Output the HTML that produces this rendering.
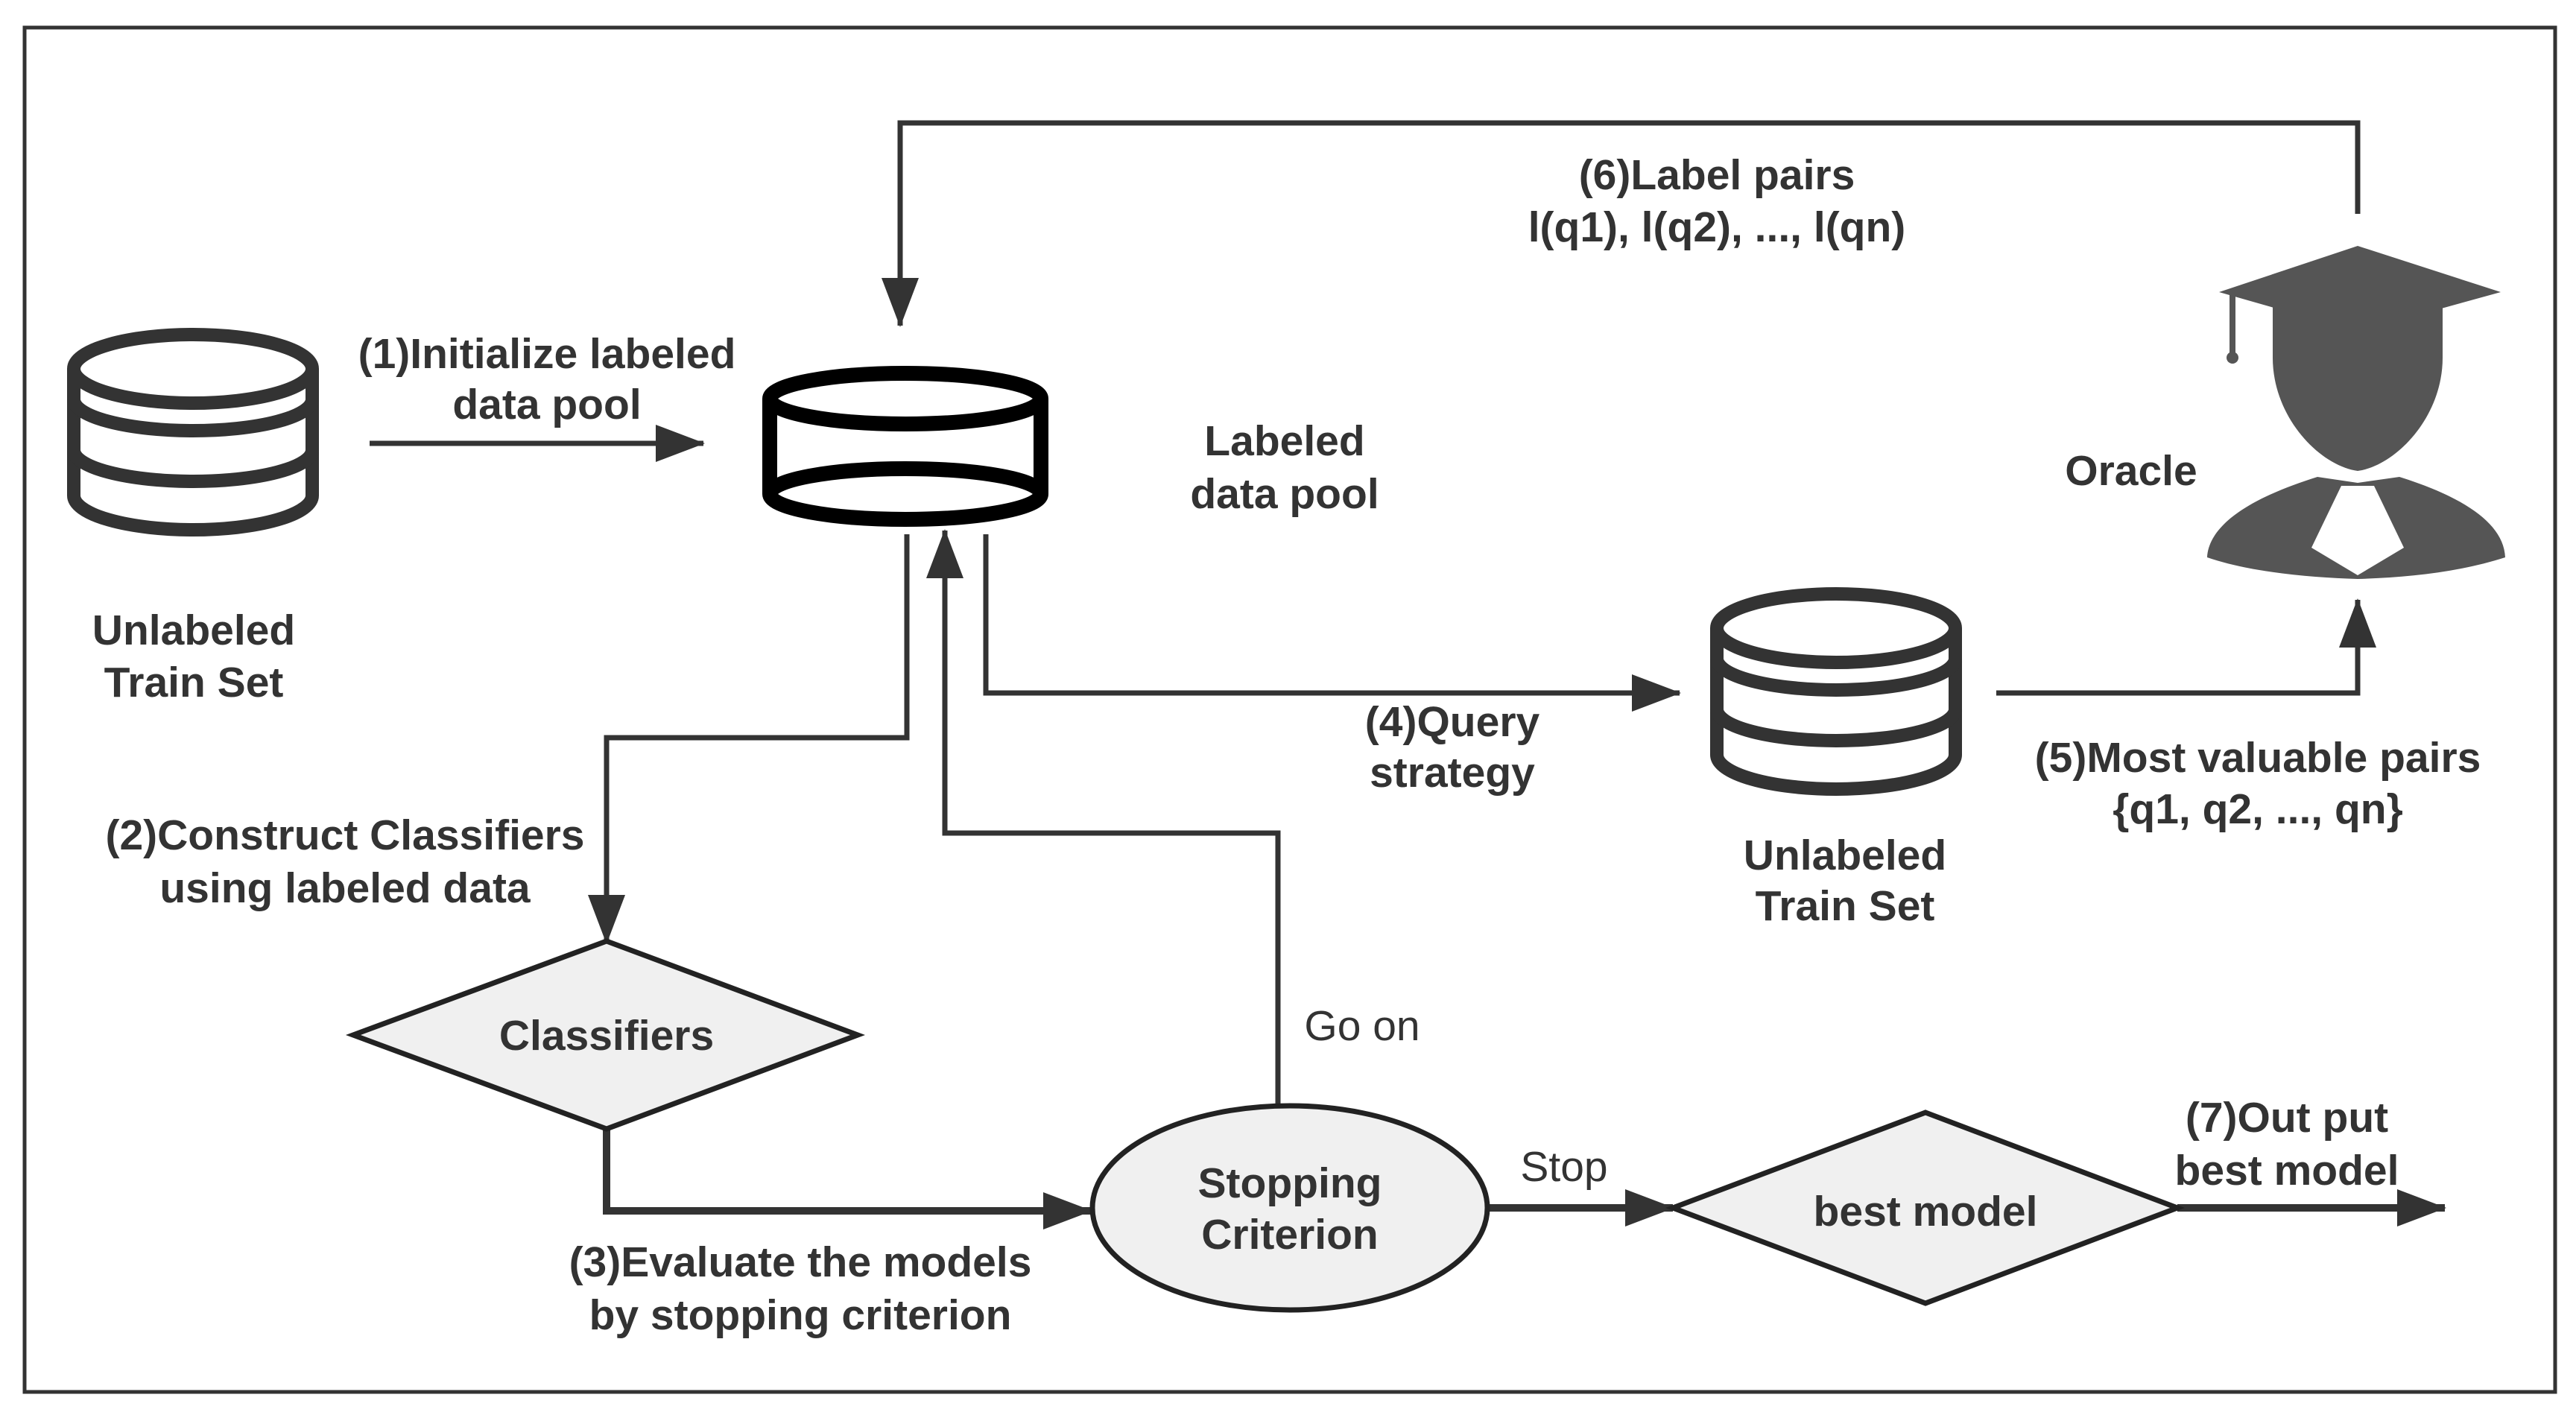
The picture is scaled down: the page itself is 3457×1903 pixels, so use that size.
<!DOCTYPE html>
<html><head><meta charset="utf-8"><style>
html,body{margin:0;padding:0;background:#fff}
svg{display:block}
text{font-family:"Liberation Sans",sans-serif;font-weight:bold;fill:#333;font-size:57px;text-anchor:middle}
.r{font-weight:normal}
</style></head><body>
<svg width="3457" height="1903" viewBox="0 0 3457 1903" xmlns="http://www.w3.org/2000/svg">
<defs>
<marker id="a" markerUnits="userSpaceOnUse" markerWidth="70" markerHeight="60" refX="64" refY="25" orient="auto">
<path d="M0,0 L66,25 L0,50 Z" fill="#333"/>
</marker>
</defs>
<rect x="33" y="37" width="3396" height="1831" fill="none" stroke="#333" stroke-width="5"/>

<!-- left cylinder -->
<g fill="none" stroke="#333" stroke-width="18">
<ellipse cx="259" cy="495" rx="160" ry="46"/>
<path d="M99,495 V665 A160,46 0 0 0 419,665 V495"/>
<path d="M99,536 A160,42 0 0 0 419,536"/>
<path d="M99,604 A160,42 0 0 0 419,604"/>
</g>
<!-- labeled pool -->
<g fill="none" stroke="#000" stroke-width="20">
<ellipse cx="1215" cy="535" rx="182" ry="34"/>
<ellipse cx="1215" cy="663" rx="182" ry="34"/>
<path d="M1033,535 V663 M1397,535 V663"/>
</g>
<!-- right cylinder -->
<g fill="none" stroke="#333" stroke-width="18">
<ellipse cx="2464" cy="843" rx="160" ry="46"/>
<path d="M2304,843 V1013 A160,46 0 0 0 2624,1013 V843"/>
<path d="M2304,884 A160,42 0 0 0 2624,884"/>
<path d="M2304,952 A160,42 0 0 0 2624,952"/>
</g>

<!-- oracle -->
<g fill="#555">
<path d="M3164,330 L3356,392 L3164,445 L2978,392 Z"/>
<rect x="2992" y="395" width="8" height="80"/>
<circle cx="2996" cy="480" r="8"/>
<path d="M3050,405 L3278,405 L3278,480 C3278,560 3215,625 3164,632 C3113,625 3050,560 3050,480 Z"/>
<path d="M3110,640 L3164,648 L3220,640 C3300,665 3360,700 3362,748 C3300,768 3230,775 3164,777 C3100,775 3020,768 2962,748 C2965,700 3030,665 3110,640 Z"/>
</g>
<path d="M3142,652 L3186,652 L3226,735 L3164,772 L3102,735 Z" fill="#fff"/>

<!-- connectors -->
<g fill="none" stroke="#333" stroke-width="7">
<path d="M496,595 H944" marker-end="url(#a)"/>
<path d="M3164,287 V165 H1208 V437" marker-end="url(#a)"/>
<path d="M1217,717 V990 H814 V1265" marker-end="url(#a)"/>
<path d="M814,1515 V1625 H1464" marker-end="url(#a)" stroke-width="10"/>
<path d="M1715,1482 V1118 H1268 V712" marker-end="url(#a)"/>
<path d="M1323,717 V930 H2254" marker-end="url(#a)"/>
<path d="M2679,930 H3164 V805" marker-end="url(#a)"/>
<path d="M1996,1621 H2245" marker-end="url(#a)" stroke-width="10"/>
<path d="M2922,1621 H3281" marker-end="url(#a)" stroke-width="10"/>
</g>

<!-- shapes -->
<path d="M814,1263 L1151,1389 L814,1515 L474,1389 Z" fill="#f0f0f0" stroke="#222" stroke-width="7"/>
<ellipse cx="1731" cy="1621" rx="265" ry="137" fill="#f0f0f0" stroke="#222" stroke-width="7"/>
<path d="M2584,1493 L2922,1621 L2584,1749 L2245,1621 Z" fill="#f0f0f0" stroke="#222" stroke-width="7"/>

<!-- labels -->
<text x="734" y="494">(1)Initialize labeled</text>
<text x="734" y="562">data pool</text>
<text x="260" y="865">Unlabeled</text>
<text x="260" y="935">Train Set</text>
<text x="1724" y="611">Labeled</text>
<text x="1724" y="682">data pool</text>
<text x="2304" y="254">(6)Label pairs</text>
<text x="2304" y="324">l(q1), l(q2), ..., l(qn)</text>
<text x="2860" y="651">Oracle</text>
<text x="463" y="1140">(2)Construct Classifiers</text>
<text x="463" y="1211">using labeled data</text>
<text x="814" y="1409">Classifiers</text>
<text x="1949" y="988">(4)Query</text>
<text x="1949" y="1056">strategy</text>
<text x="2476" y="1167">Unlabeled</text>
<text x="2476" y="1235">Train Set</text>
<text x="3030" y="1036">(5)Most valuable pairs</text>
<text x="3030" y="1105">{q1, q2, ..., qn}</text>
<text x="1828" y="1396" class="r">Go on</text>
<text x="1731" y="1607">Stopping</text>
<text x="1731" y="1676">Criterion</text>
<text x="2099" y="1585" class="r">Stop</text>
<text x="2584" y="1645">best model</text>
<text x="3069" y="1519">(7)Out put</text>
<text x="3069" y="1590">best model</text>
<text x="1074" y="1713">(3)Evaluate the models</text>
<text x="1074" y="1784">by stopping criterion</text>
</svg>
</body></html>
